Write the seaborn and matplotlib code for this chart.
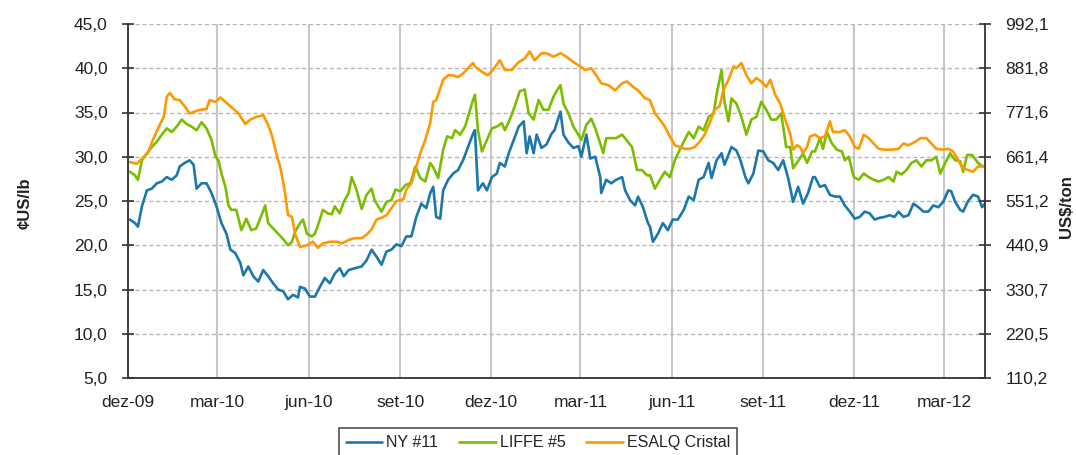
import numpy as np
import pandas as pd
import matplotlib
matplotlib.use("Agg")
import matplotlib.pyplot as plt
import seaborn as sns

# ---------------- data ----------------
start_date = "2009-12-01"
end_offset_days = 862

series_names = ["NY #11", "LIFFE #5", "ESALQ Cristal"]

ny_days = [2, 7, 10, 14, 19, 24, 29, 34, 39, 44, 49, 52, 57, 62, 66, 69, 74, 79, 84, 89,
           94, 99, 103, 108, 113, 116, 121, 126, 131, 136, 141, 146, 151, 156, 161, 166, 171,
           173, 178, 183, 188, 193, 198, 203, 208, 213, 217, 222, 228, 235, 240, 245, 250, 255, 260, 265, 270,
           275, 280, 285, 290, 295, 300, 304, 307, 310, 314, 317, 322, 327, 332, 337, 342, 347,
           349, 352, 357, 361, 366, 371, 374, 379, 383, 388, 393, 398, 401, 404, 408, 411, 416, 421, 426, 429,
           435, 438, 443, 448, 453, 456, 461, 465, 470, 475, 476, 481, 486, 491, 497, 500, 505, 510, 513, 518, 523,
           525, 528, 533, 538, 543, 548, 553, 559, 564, 569, 574, 579, 584, 587, 592, 597, 600, 607, 612, 616,
           621, 624, 629, 634, 639, 644, 649, 654, 659, 664, 669, 674, 679, 684, 689,
           691, 696, 701, 706, 711, 716, 721, 726, 731, 736, 741, 746, 751, 756, 761, 766, 771, 775, 780, 785,
           790, 795, 800, 805, 810, 815, 820, 825, 828, 832, 837, 840, 845, 850, 855, 859, 862]
ny_vals = [22.9, 22.5, 22.1, 24.4, 26.2, 26.4, 27.0, 27.2, 27.7, 27.4, 27.9, 28.9, 29.3, 29.6, 29.1, 26.4, 27.0, 27.0, 25.9, 24.4,
           22.5, 21.3, 19.5, 19.1, 18.0, 16.6, 17.6, 16.5, 15.9, 17.2, 16.5, 15.7, 15.0, 14.8, 13.9, 14.4, 14.1,
           15.3, 15.1, 14.2, 14.2, 15.3, 16.3, 15.7, 16.8, 17.4, 16.5, 17.2, 17.4, 17.6, 18.3, 19.5, 18.7, 17.8, 19.3, 19.5, 20.1,
           19.9, 21.0, 21.0, 23.2, 24.7, 24.2, 25.9, 26.6, 23.2, 23.0, 26.2, 27.4, 28.1, 28.5, 29.6, 31.1, 32.6,
           33.0, 26.2, 27.0, 26.2, 27.7, 28.1, 29.3, 28.9, 30.4, 31.9, 33.4, 34.0, 30.4, 32.3, 30.4, 32.5, 31.0, 31.4, 32.6, 33.0,
           35.1, 32.5, 31.6, 31.0, 31.2, 30.0, 32.5, 29.8, 30.0, 27.7, 25.9, 27.4, 27.0, 27.4, 27.7, 26.2, 25.1, 24.5, 25.5, 24.3, 22.5,
           22.1, 20.4, 21.3, 22.5, 21.7, 22.9, 22.9, 24.0, 25.5, 25.1, 27.4, 27.7, 29.3, 27.6, 29.6, 30.4, 29.1, 31.1, 30.7, 29.6,
           27.7, 27.0, 28.1, 30.7, 30.6, 29.6, 29.3, 28.5, 29.6, 27.6, 24.9, 26.6, 24.7, 25.9, 27.7,
           27.7, 26.6, 26.8, 25.7, 25.5, 25.5, 24.5, 23.8, 23.0, 23.2, 23.8, 23.6, 22.9, 23.1, 23.2, 23.4, 23.2, 23.8, 23.2, 23.4,
           24.7, 24.3, 23.8, 23.8, 24.5, 24.3, 24.9, 26.2, 26.1, 24.9, 24.0, 23.8, 25.0, 25.7, 25.5, 24.3, 24.7]

liffe_days = [2, 7, 10, 14, 19, 24, 29, 34, 39, 44, 49, 54, 59, 64, 69, 74, 79, 84, 88, 91,
              94, 98, 101, 104, 109, 114, 119, 124, 129, 135, 138, 141, 146, 151, 156, 161, 165, 168,
              173, 176, 180, 185, 188, 193, 196, 201, 205, 208, 213, 217, 222, 225, 230, 235, 240, 245, 248, 255,
              260, 265, 269, 274, 279, 284, 289, 294, 299, 304, 307, 312, 317, 321, 326, 329, 334, 339, 344, 347,
              349, 352, 356, 361, 366, 371, 376, 379, 384, 389, 394, 399, 403, 408, 413, 418, 423, 428, 431, 435,
              438, 443, 448, 453, 456, 461, 466, 470, 475, 478, 481, 486, 491, 497, 502, 507, 512, 517, 522,
              525, 530, 535, 540, 545, 550, 555, 560, 564, 569, 574, 579, 584, 589, 592, 597, 600, 604, 607, 612,
              617, 622, 627, 632, 637, 642, 647, 652, 657, 662, 666, 669, 674, 679, 683, 688,
              691, 696, 699, 703, 708, 713, 718, 721, 725, 730, 735, 740, 745, 750, 755, 760, 765, 770, 773, 778,
              783, 788, 793, 798, 803, 808, 813, 817, 822, 827, 832, 837, 840, 844, 849, 855, 860]
liffe_vals = [28.3, 27.9, 27.4, 29.6, 30.4, 31.1, 31.7, 32.5, 33.2, 32.8, 33.4, 34.2, 33.7, 33.4, 33.0, 33.9, 33.2, 31.9, 30.0, 29.6,
              28.1, 26.6, 24.5, 24.0, 24.0, 21.7, 23.0, 21.7, 21.9, 23.6, 24.5, 22.5, 21.9, 21.3, 20.7, 20.0, 20.4, 21.5,
              22.5, 22.9, 21.3, 21.0, 21.3, 22.9, 24.0, 23.6, 23.5, 24.4, 23.6, 24.9, 25.9, 27.7, 26.2, 24.1, 25.7, 26.4, 25.1, 23.8,
              24.9, 25.1, 26.3, 26.1, 26.8, 27.0, 28.9, 27.6, 27.2, 29.3, 28.8, 27.6, 30.8, 32.3, 32.1, 33.0, 32.5, 33.4, 35.3, 36.4,
              37.0, 33.0, 30.6, 31.9, 33.2, 33.4, 33.8, 33.0, 34.2, 35.7, 37.4, 37.6, 34.9, 34.2, 36.4, 35.3, 35.3, 36.8, 37.4, 38.1,
              36.0, 34.9, 33.4, 32.5, 31.9, 33.6, 34.3, 33.2, 31.5, 30.4, 32.1, 32.1, 32.1, 32.5, 31.8, 31.1, 28.5, 28.5, 27.9,
              27.9, 26.4, 27.4, 28.3, 27.7, 29.6, 30.8, 31.9, 32.8, 32.1, 33.4, 33.0, 34.5, 34.9, 37.0, 39.8, 36.2, 34.0, 36.6, 36.0,
              34.5, 32.5, 34.2, 34.5, 36.2, 35.3, 34.2, 34.2, 34.9, 31.1, 31.1, 28.7, 29.5, 30.4, 29.3, 30.6,
              30.6, 32.1, 30.9, 32.8, 31.5, 30.8, 30.6, 29.6, 30.0, 27.7, 27.4, 28.1, 27.7, 27.4, 27.2, 27.4, 27.7, 27.2, 28.3, 28.0,
              28.5, 29.3, 29.6, 28.9, 29.6, 29.6, 30.0, 28.1, 29.3, 30.4, 29.6, 29.5, 28.3, 30.2, 30.2, 29.3, 28.9]

esalq_days = [2, 9, 14, 20, 25, 31, 36, 39, 42, 47, 52, 57, 62, 67, 72, 79, 82, 88, 93, 98,
              104, 111, 118, 123, 129, 136, 141, 145, 150, 153, 157, 161, 165, 168,
              173, 180, 186, 191, 196, 203, 210, 215, 222, 228, 235, 240, 245, 250, 255, 260, 265, 270, 277, 280,
              285, 290, 294, 299, 304, 307, 310, 314, 317, 322, 327, 332, 337, 342, 347,
              349, 356, 362, 367, 374, 379, 386, 393, 399, 404, 409, 416, 421, 428, 435, 441, 448, 455, 460, 466,
              471, 476, 483, 490, 497, 502, 508, 513, 520,
              525, 530, 535, 540, 545, 550, 555, 560, 565, 570, 575, 580, 585, 590, 595, 599, 604, 609, 612, 617,
              622, 627, 632, 637, 642, 646, 651, 656, 661, 666, 669, 673, 676, 679, 683, 686,
              691, 696, 701, 706, 709, 716, 721, 726, 731, 735, 740, 745, 750, 755, 761, 768, 775, 780, 785, 792,
              797, 803, 808, 813, 820, 825, 830, 835, 840, 845, 850, 855, 860]
esalq_vals = [29.4, 29.2, 29.8, 30.4, 31.9, 33.4, 34.5, 36.8, 37.2, 36.5, 36.4, 35.7, 34.9, 35.1, 35.3, 35.4, 36.4, 36.2, 36.7, 36.2,
              35.6, 34.9, 33.7, 34.2, 34.5, 34.7, 33.6, 32.3, 30.0, 28.9, 26.6, 23.4, 23.2, 21.3,
              19.8, 20.0, 20.4, 19.7, 20.2, 20.4, 20.4, 20.2, 20.6, 20.8, 20.8, 21.2, 21.8, 22.9, 23.1, 23.4, 24.2, 25.0, 25.2, 26.3,
              27.0, 28.9, 30.4, 31.9, 33.8, 36.2, 36.4, 37.7, 38.7, 39.2, 39.2, 39.0, 39.4, 40.0, 40.6,
              40.2, 39.6, 39.2, 39.8, 40.9, 39.8, 39.8, 40.7, 41.1, 41.9, 40.9, 41.7, 41.7, 41.3, 41.7, 41.3, 40.7, 40.2, 39.8, 40.0,
              39.2, 38.3, 38.1, 37.5, 38.3, 38.5, 37.9, 37.5, 36.6,
              36.4, 34.9, 34.2, 33.4, 32.3, 31.3, 31.1, 30.9, 30.9, 31.1, 31.7, 32.5, 33.8, 35.3, 35.7, 37.6, 38.7, 40.2, 40.0, 40.6,
              39.2, 38.3, 38.9, 38.5, 37.9, 38.7, 37.0, 36.0, 34.2, 32.6, 30.8, 31.3, 31.1, 30.4, 31.1, 32.3,
              32.5, 32.1, 32.3, 34.0, 32.8, 32.8, 33.0, 32.3, 31.1, 30.9, 32.5, 32.1, 31.5, 30.9, 30.8, 30.8, 30.9, 31.5, 31.3, 31.7,
              32.1, 32.1, 31.5, 30.9, 30.8, 30.9, 30.6, 29.6, 28.7, 28.5, 28.3, 28.9, 28.9]

x_tick_dates = ["2009-12-01", "2010-03-01", "2010-06-01", "2010-09-01", "2010-12-01",
                "2011-03-01", "2011-06-01", "2011-09-01", "2011-12-01", "2012-03-01"]
x_tick_labels = ["dez-09", "mar-10", "jun-10", "set-10", "dez-10",
                 "mar-11", "jun-11", "set-11", "dez-11", "mar-12"]
left_ticks = [5, 10, 15, 20, 25, 30, 35, 40, 45]
left_tick_labels = ["5,0", "10,0", "15,0", "20,0", "25,0", "30,0", "35,0", "40,0", "45,0"]
right_tick_labels = ["110,2", "220,5", "330,7", "440,9", "551,2", "661,4", "771,6", "881,8", "992,1"]
cents_lb_to_usd_ton = 22.0462

colors = {"NY #11": "#1C78AA", "LIFFE #5": "#7BBD00", "ESALQ Cristal": "#FF9900"}

# ---------------- frame ----------------
base = pd.Timestamp(start_date)
frames = []
for name, d, v in [("NY #11", ny_days, ny_vals), ("LIFFE #5", liffe_days, liffe_vals),
                   ("ESALQ Cristal", esalq_days, esalq_vals)]:
    frames.append(pd.DataFrame({"date": base + pd.to_timedelta(d, unit="D"),
                                "value": v, "series": name}))
df = pd.concat(frames, ignore_index=True)

sns.set_style("white")
plt.rcParams["font.family"] = ["Liberation Sans", "DejaVu Sans"]

W, H = 1076, 455
fig = plt.figure(figsize=(W / 100, H / 100), dpi=100)
ax = fig.add_axes([128 / W, 1 - 378 / H, (985 - 128) / W, (378 - 24) / H])

sns.lineplot(data=df, x="date", y="value", hue="series", hue_order=series_names,
             palette=colors, linewidth=1.9, ax=ax, legend=False, estimator=None)

ax.set_xlim(base, base + pd.Timedelta(days=end_offset_days))
ax.set_ylim(left_ticks[0], left_ticks[-1])
ax.set_xticks(pd.to_datetime(x_tick_dates))
ax.set_xticklabels(x_tick_labels)
ax.set_yticks(left_ticks)
ax.set_yticklabels(left_tick_labels)
ax.set_xlabel("")
ax.set_ylabel("")

text_color = "#222222"
ax.tick_params(axis="x", length=0, pad=12, labelsize=12.5, labelcolor=text_color)
ax.tick_params(axis="y", direction="inout", length=9, width=1.2, color="#333333",
               pad=10, labelsize=12.5, labelcolor=text_color)

ax.xaxis.grid(True, color="#c8c8c8", linewidth=1.5, linestyle="-")
ax.yaxis.grid(True, color="#b8b8b8", linewidth=1.0, linestyle=(0, (3, 2)))
ax.set_axisbelow(True)

for s in ["left", "bottom"]:
    ax.spines[s].set_color("#333333")
    ax.spines[s].set_linewidth(1.3)
ax.spines["top"].set_visible(False)
ax.spines["right"].set_visible(False)

ax2 = ax.twinx()
ax2.set_ylim(left_ticks[0] * cents_lb_to_usd_ton, left_ticks[-1] * cents_lb_to_usd_ton)
ax2.set_yticks([t * cents_lb_to_usd_ton for t in left_ticks])
ax2.set_yticklabels(right_tick_labels)
ax2.tick_params(axis="y", direction="inout", length=9, width=1.2, color="#333333",
                pad=10, labelsize=12.5, labelcolor=text_color)
ax2.spines["right"].set_color("#333333")
ax2.spines["right"].set_linewidth(1.3)
for s in ["top", "left", "bottom"]:
    ax2.spines[s].set_visible(False)
ax2.grid(False)

fig.text(25 / W, 1 - 203 / H, "¢US/lb", rotation=90, fontweight="bold", fontsize=12,
         ha="center", va="center", color=text_color)
fig.text(1066 / W, 1 - 207 / H, "US$/ton", rotation=90, fontweight="bold", fontsize=12,
         ha="center", va="center", color=text_color)

handles = ax.get_lines()[:3]
leg = fig.legend(handles, series_names, loc="upper center",
                 bbox_to_anchor=(538 / W, 1 - 428 / H), ncol=3, frameon=True,
                 fancybox=False, edgecolor="#222222", fontsize=11.5, handlelength=2.3,
                 handletextpad=0.25, columnspacing=1.3, borderpad=0.45, borderaxespad=0.0)
leg.get_frame().set_linewidth(1.2)
for t in leg.get_texts():
    t.set_color(text_color)

fig.savefig("out.png", dpi=100)
